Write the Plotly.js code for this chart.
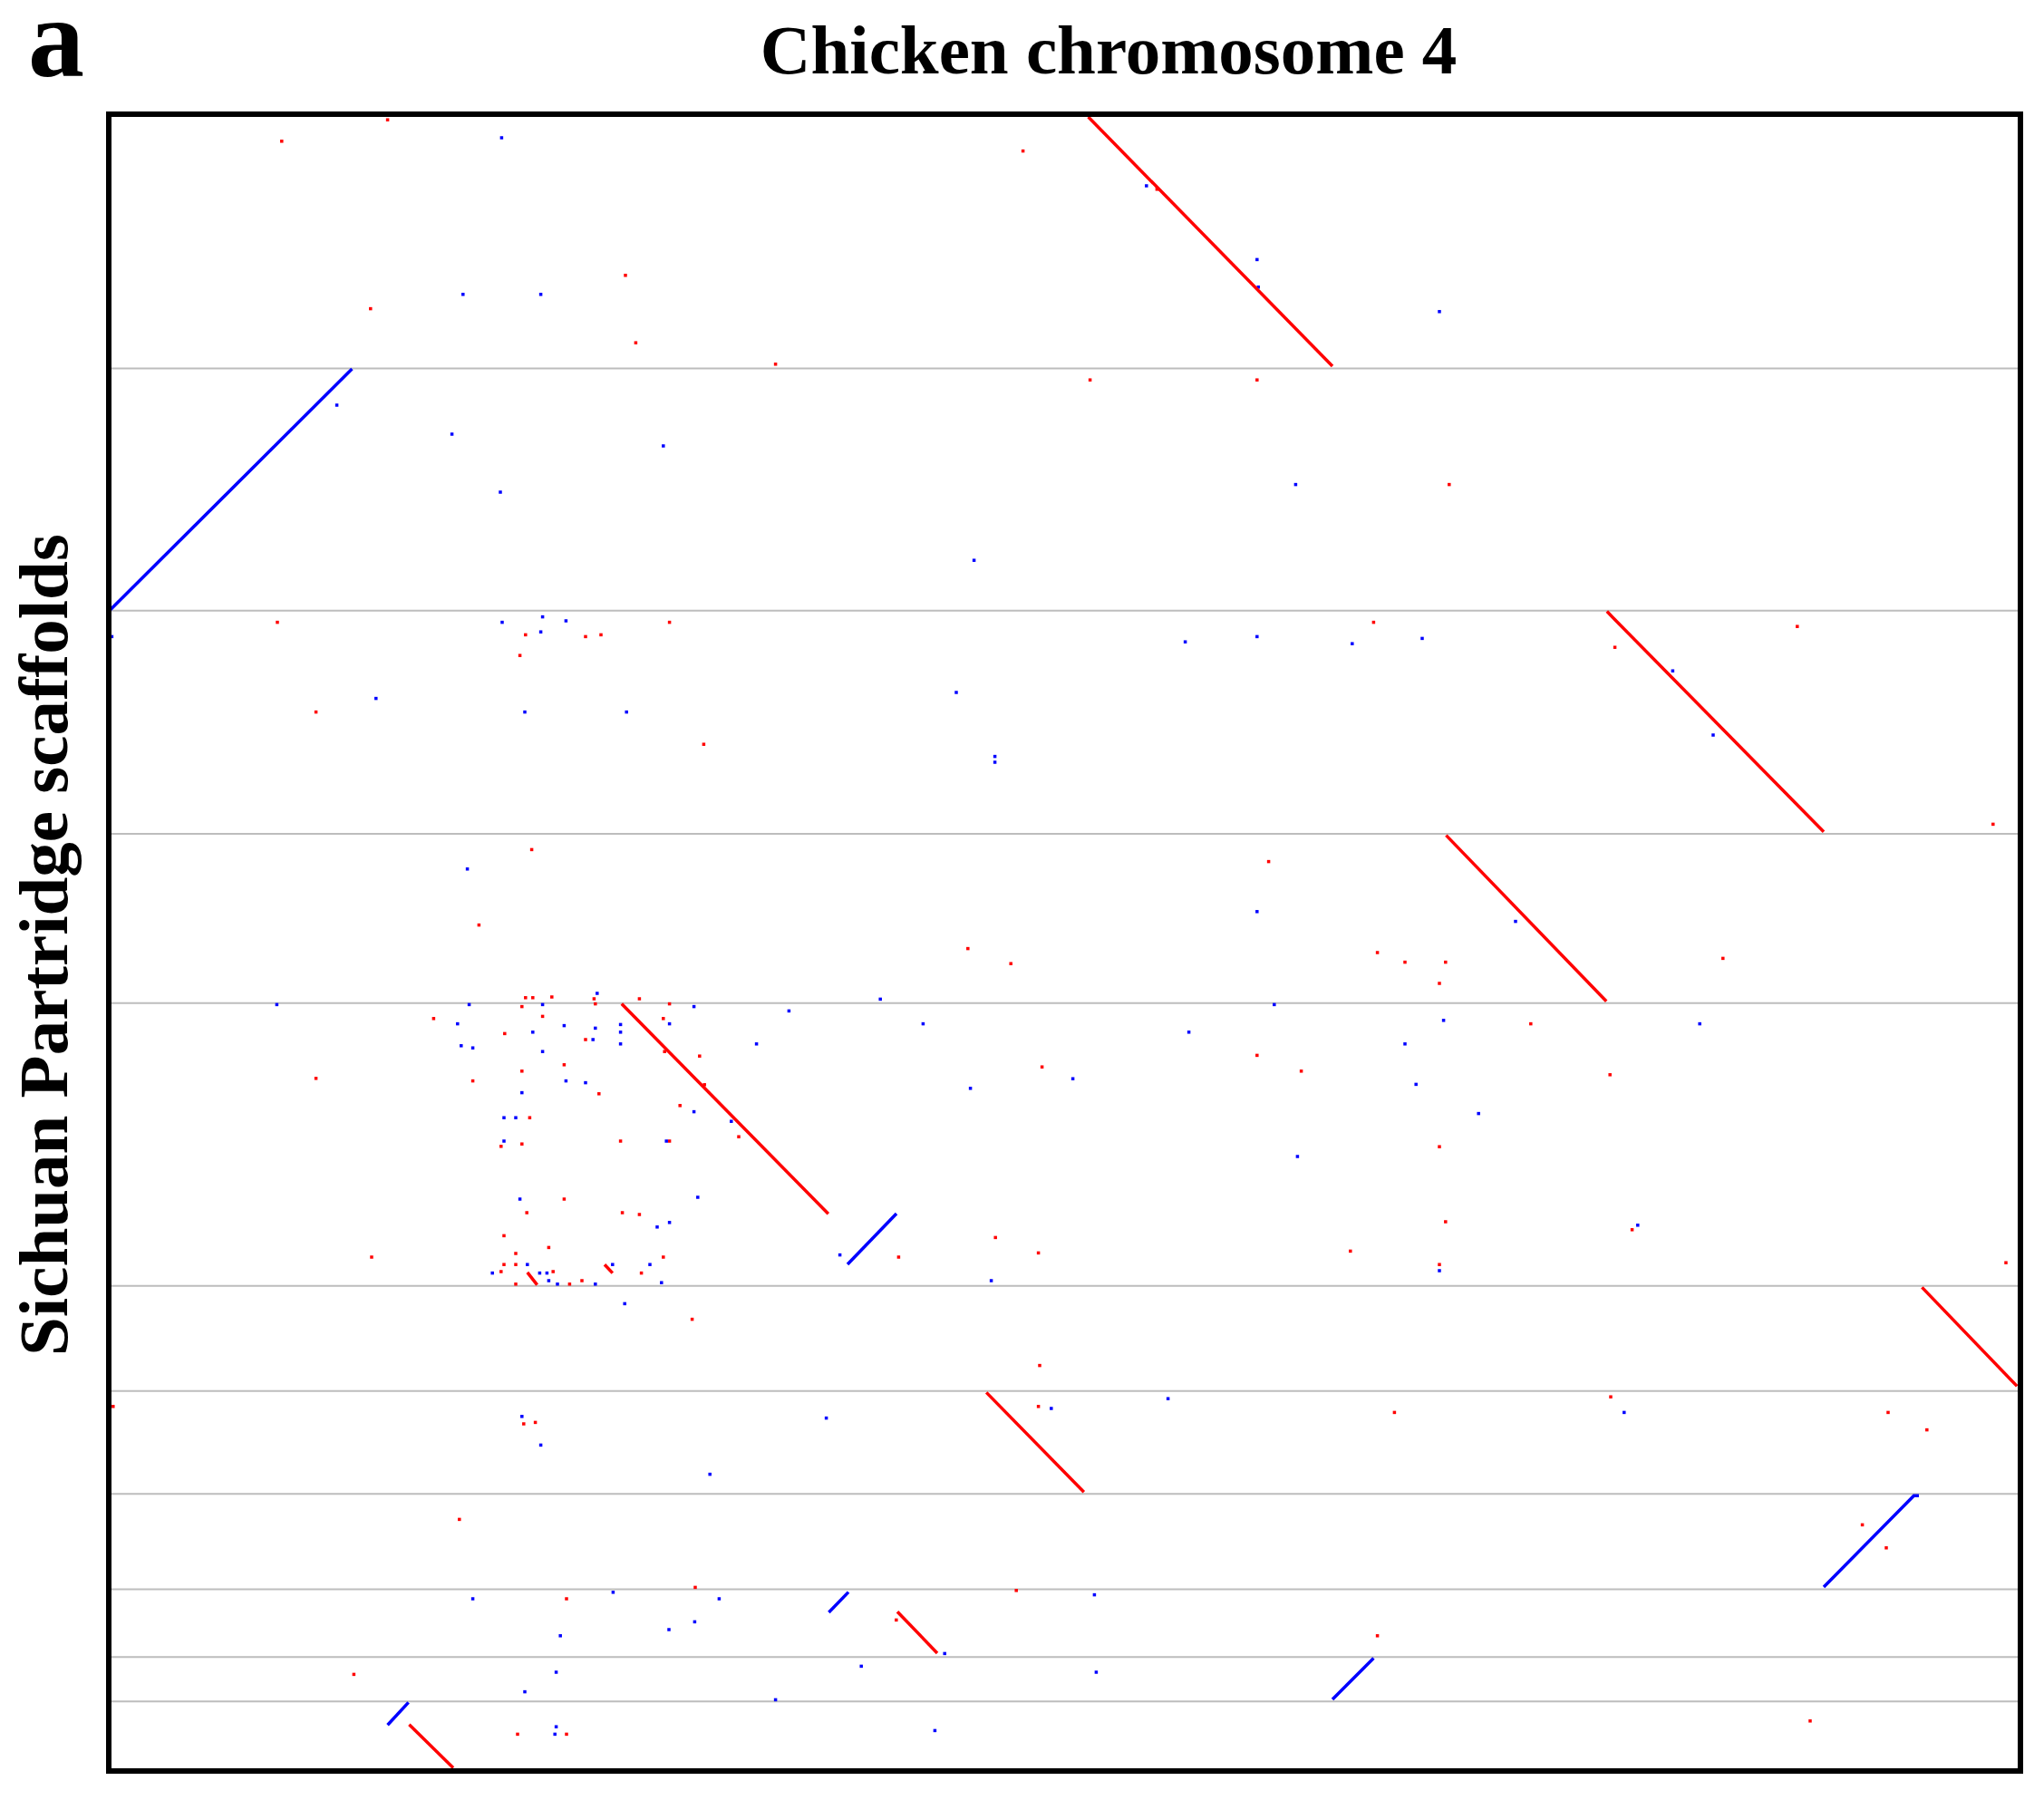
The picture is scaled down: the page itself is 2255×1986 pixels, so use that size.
<!DOCTYPE html>
<html>
<head>
<meta charset="utf-8">
<script src="https://cdn.plot.ly/plotly-3.0.1.min.js"></script>
<style>
  html, body { margin: 0; padding: 0; background: #fff; }
  #dotplot { width: 2255px; height: 1986px; }
</style>
</head>
<body>
<div id="dotplot"></div>
<script>
// positions in Mb: x = chicken chromosome 4, y = concatenated partridge scaffolds
const scaffoldEnds = [13.93, 27.29, 39.60, 48.94, 64.54, 70.34, 76.01, 81.27, 85.01, 87.46];

// collinear blocks (forward = red, reverse = blue)
const redSegments = [
    [[53.93, 0.05], [67.40, 13.80]],
    [[82.54, 27.33], [94.50, 39.49]],
    [[73.67, 39.68], [82.51, 48.84]],
    [[28.19, 48.98], [39.59, 60.56]],
    [[22.99, 63.79], [23.53, 64.48]],
    [[27.25, 63.36], [27.69, 63.83]],
    [[99.92, 64.62], [105.16, 70.07]],
    [[48.31, 70.42], [53.69, 75.91]],
    [[43.40, 82.51], [45.60, 84.80]],
    [[16.47, 88.74], [18.90, 91.13]]
];
const blueSegments = [
    [[0.00, 27.23], [13.32, 13.95]],
    [[40.65, 63.35], [43.35, 60.55]],
    [[94.50, 81.15], [99.47, 76.11], [99.75, 76.11]],
    [[39.62, 82.55], [40.70, 81.43]],
    [[67.40, 87.35], [69.67, 85.07]],
    [[15.28, 88.76], [16.43, 87.52]]
];

// isolated hits
const redDotX = [15.28, 9.44, 50.33, 28.40, 14.34, 28.97, 36.68, 9.20, 30.83, 22.89, 26.20, 27.05, 22.58,
    57.72, 54.03, 63.24, 73.84, 69.67, 82.98, 93.04,
    11.33, 32.72, 23.23, 20.32, 47.29, 49.66, 22.89, 23.29, 24.34, 26.67, 29.17, 30.83, 26.74, 22.69,
    17.82, 23.83, 30.49, 21.74, 26.20, 30.56, 32.49, 51.38, 11.33, 19.98, 22.69, 25.02, 26.94, 32.76,
    31.41, 23.12, 22.69, 28.13, 30.83, 34.65, 21.54, 25.02, 22.96, 28.23, 29.17,
    103.84, 63.88, 69.88, 71.40, 73.64, 73.30, 88.94, 78.34, 63.24, 65.68, 82.71, 73.30, 73.64,
    21.70, 24.17, 14.40, 22.35, 30.49, 43.47, 48.81, 51.18, 21.70, 22.35, 21.54, 24.41, 29.28, 22.35,
    25.32, 26.00, 32.08, 51.25, 0.14, 22.79, 23.43, 51.18, 19.24, 32.25, 49.96, 25.15, 43.34, 13.42,
    22.45, 25.15,
    83.93, 68.39, 73.30, 104.55, 82.75, 70.82, 98.05, 100.19, 96.63, 97.95, 69.88, 93.75];
const redDotY = [0.21, 1.39, 1.93, 8.79, 10.63, 12.51, 13.69, 27.93, 27.93, 28.62, 28.72, 28.62, 29.76,
    4.04, 14.56, 14.56, 20.33, 27.93, 29.31, 28.16,
    32.88, 34.66, 40.47, 44.63, 45.93, 46.76, 48.64, 48.64, 48.60, 48.70, 48.70, 48.98, 48.98, 49.13,
    49.79, 49.67, 49.79, 50.62, 50.95, 51.61, 51.86, 52.46, 53.09, 53.23, 52.69, 52.34, 53.94, 53.44,
    54.59, 55.26, 56.71, 56.55, 56.55, 56.31, 56.84, 59.75, 60.50, 60.50, 60.60,
    39.07, 41.13, 46.15, 46.68, 46.68, 47.85, 46.47, 50.08, 51.82, 52.69, 52.89, 56.86, 61.00,
    61.77, 62.42, 62.95, 62.75, 62.95, 62.95, 61.87, 62.72, 63.36, 63.36, 63.75, 63.75, 63.83, 64.44,
    64.44, 64.25, 66.38, 68.93, 71.19, 72.15, 72.07, 71.19, 77.42, 81.17, 81.34, 81.80, 82.97, 85.97,
    89.27, 89.27,
    61.44, 62.62, 63.36, 63.26, 70.66, 71.52, 71.52, 72.48, 77.72, 78.99, 83.84, 88.54];

const blueDotX = [21.57, 19.44, 23.73, 12.48, 18.83, 30.49, 21.50, 47.63, 0.07, 21.60, 23.83, 23.73, 25.12,
    57.14, 63.24, 63.31, 73.30, 65.37, 59.28, 63.24, 68.49, 72.35, 86.17,
    14.64, 22.85, 28.46, 46.65, 48.78, 48.78, 19.68, 9.17, 19.78, 23.83, 26.84, 32.18, 37.42, 42.46,
    19.14, 23.29, 25.02, 26.74, 28.13, 28.13, 30.83, 19.34, 19.98, 26.61, 28.13, 23.83, 35.63, 44.82,
    25.12, 26.20, 22.69, 47.43, 32.18, 34.24, 21.70, 22.35, 21.70, 30.66, 22.58, 32.39, 30.83, 30.15,
    88.40, 63.24, 77.50, 64.19, 73.53, 59.48, 71.40, 87.66, 53.08, 72.01, 75.46, 65.47, 84.24,
    40.23, 21.06, 22.99, 23.67, 24.07, 24.17, 24.65, 26.74, 27.69, 29.75, 30.39, 48.58, 28.36, 22.69,
    23.73, 39.48, 33.06, 51.89, 27.72, 19.98, 33.57, 32.22, 30.80, 24.81, 46.01, 41.41, 24.58, 22.85,
    36.68, 24.58, 24.51, 45.47,
    73.30, 58.33, 83.49, 54.27, 54.37];
const blueDotY = [1.20, 9.84, 9.84, 15.95, 17.55, 18.20, 20.75, 24.51, 28.72, 27.93, 27.63, 28.46, 27.85,
    3.85, 7.92, 9.44, 10.79, 20.33, 29.01, 28.72, 29.11, 28.82, 30.61,
    32.13, 32.88, 32.88, 31.80, 35.33, 35.65, 41.54, 49.02, 49.02, 49.02, 48.40, 49.13, 49.37, 48.72,
    50.08, 50.54, 50.18, 50.32, 50.12, 50.54, 50.08, 51.29, 51.41, 50.95, 51.19, 51.61, 51.19, 50.08,
    53.23, 53.33, 53.88, 53.64, 54.93, 55.46, 55.26, 55.26, 56.55, 56.55, 59.75, 59.65, 61.04, 61.29,
    34.15, 43.89, 44.43, 49.02, 49.89, 50.54, 51.19, 50.08, 53.11, 53.42, 55.03, 57.40, 61.19,
    62.83, 63.83, 63.36, 63.83, 63.83, 64.25, 64.44, 64.44, 63.36, 63.36, 64.36, 64.25, 65.52, 71.74,
    73.32, 71.83, 74.93, 71.30, 81.44, 81.80, 81.80, 83.07, 83.50, 83.84, 84.82, 85.52, 85.85, 86.93,
    87.37, 88.86, 89.27, 89.07,
    63.70, 70.76, 71.52, 81.58, 85.85];

const RED = '#ff0000';
const BLUE = '#0000ff';

// Junta os segmentos num único traço separado por null
function segmentTrace(segments, color) {
    var x = [];
    var y = [];
    segments.forEach(seg => {
        seg.forEach(p => {
            x.push(p[0]);
            y.push(p[1]);
        });
        x.push(null);
        y.push(null);
    });
    return {
        x: x,
        y: y,
        type: 'scatter',
        mode: 'lines',
        connectgaps: false,
        line: { color: color, width: 3.5 },
        hoverinfo: 'skip'
    };
}

function dotTrace(x, y, color) {
    return {
        x: x,
        y: y,
        type: 'scatter',
        mode: 'markers',
        marker: { color: color, size: 3.5, symbol: 'square', line: { width: 0 } },
        hoverinfo: 'skip'
    };
}

const data = [
    dotTrace(redDotX, redDotY, RED),
    dotTrace(blueDotX, blueDotY, BLUE),
    segmentTrace(redSegments, RED),
    segmentTrace(blueSegments, BLUE)
];

// linhas cinzas separando os scaffolds
const shapes = scaffoldEnds.map(yv => ({
    type: 'line',
    xref: 'paper', x0: 0, x1: 1,
    yref: 'y', y0: yv, y1: yv,
    line: { color: '#bdbdbd', width: 2 },
    layer: 'below'
}));
shapes.push({
    type: 'rect',
    xref: 'paper', yref: 'paper',
    x0: 0, x1: 1, y0: 0, y1: 1,
    line: { color: '#000', width: 6 },
    layer: 'above'
});

const serif = 'Liberation Serif, Times New Roman, serif';

const layout = {
    width: 2255,
    height: 1986,
    margin: { l: 120, r: 26, t: 126, b: 32 },
    paper_bgcolor: '#fff',
    plot_bgcolor: '#fff',
    showlegend: false,
    title: {
        text: '<b>Chicken chromosome 4</b>',
        font: { family: serif, size: 77, color: '#000' },
        xref: 'container', x: 0.5424, xanchor: 'center',
        yref: 'container', y: 0.9728, yanchor: 'middle'
    },
    xaxis: {
        range: [-0.1, 105.35],
        showgrid: false, zeroline: false, showline: false,
        showticklabels: false, ticks: '', fixedrange: true
    },
    yaxis: {
        range: [91.3, -0.1],
        showgrid: false, zeroline: false, showline: false,
        showticklabels: false, ticks: '', fixedrange: true
    },
    shapes: shapes,
    annotations: [
        {
            text: '<b>Sichuan Partridge scaffolds</b>',
            xref: 'paper', yref: 'paper',
            x: -0.0341, y: 0.4984,
            xanchor: 'center', yanchor: 'middle',
            textangle: -90, showarrow: false,
            font: { family: serif, size: 77, color: '#000' }
        },
        {
            text: '<b>a</b>',
            xref: 'paper', yref: 'paper',
            x: -0.0275, y: 1.0455,
            xanchor: 'center', yanchor: 'middle',
            showarrow: false,
            font: { family: serif, size: 124, color: '#000' }
        }
    ]
};

const config = { responsive: false, displayModeBar: false, staticPlot: true };

Plotly.newPlot('dotplot', data, layout, config);
</script>
</body>
</html>
